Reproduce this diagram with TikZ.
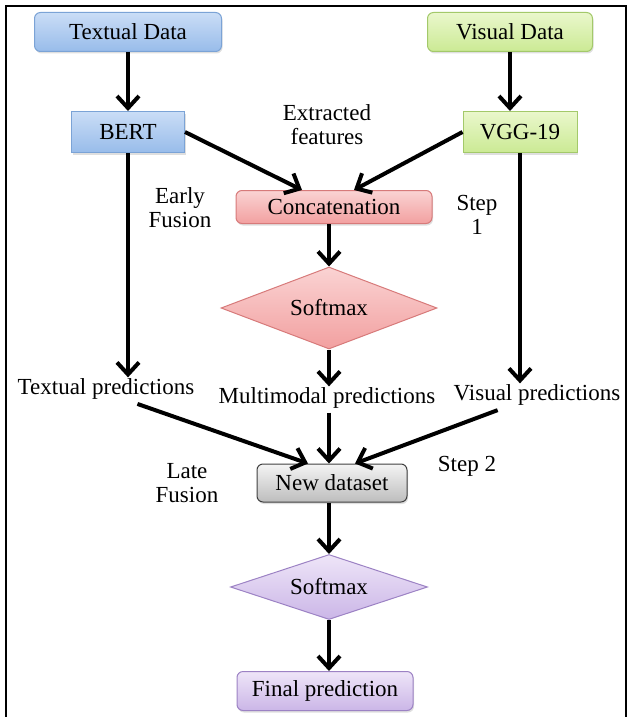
\documentclass[tikz,border=0pt]{standalone}
\usepackage{fontspec}
\setmainfont{Liberation Serif}
\usetikzlibrary{arrows.meta,shapes.geometric,shadows}
\definecolor{bluetop}{HTML}{CADDF6}
\definecolor{bluebot}{HTML}{98BCEA}
\definecolor{blueline}{HTML}{7BA3D6}
\definecolor{greentop}{HTML}{EAF7CC}
\definecolor{greenbot}{HTML}{CBEA94}
\definecolor{greenline}{HTML}{A3C96A}
\definecolor{redtop}{HTML}{FAD3D3}
\definecolor{redbot}{HTML}{F2A0A0}
\definecolor{redline}{HTML}{D77A7A}
\definecolor{greytop}{HTML}{F4F4F4}
\definecolor{greybot}{HTML}{BDBDBD}
\definecolor{greyline}{HTML}{404040}
\definecolor{purpletop}{HTML}{EEE5F8}
\definecolor{purplebot}{HTML}{CBB6E7}
\definecolor{purpleline}{HTML}{9C82C4}
\begin{document}
\begin{tikzpicture}[x=1pt,y=-1pt,
  every node/.style={font=\fontsize{23}{24}\selectfont},
  box/.style={draw,line width=1pt,inner sep=2pt,minimum height=39pt,
    drop shadow={opacity=0.25,shadow xshift=1pt,shadow yshift=-2pt}},
  bluebox/.style={box,draw=blueline,top color=bluetop,bottom color=bluebot},
  greenbox/.style={box,draw=greenline,top color=greentop,bottom color=greenbot},
  redbox/.style={box,draw=redline,top color=redtop,bottom color=redbot},
  greybox/.style={box,draw=greyline,top color=greytop,bottom color=greybot},
  purplebox/.style={box,draw=purpleline,top color=purpletop,bottom color=purplebot},
  dia/.style={diamond,aspect=2.6,inner sep=0pt,line width=1pt},
  reddia/.style={dia,draw=redline,top color=redtop,bottom color=redbot},
  purpledia/.style={dia,draw=purpleline,top color=purpletop,bottom color=purplebot},
  lbl/.style={align=center,inner sep=1pt},
  arr/.style={line width=4pt,-{Straight Barb[length=12pt,width=22pt]}}]
\useasboundingbox (0,0) rectangle (628,717);
\draw[line width=1.5pt] (6,717) -- (6,6) -- (626,6) -- (626,717);
% boxes
\node[bluebox,rounded corners=6pt,minimum width=187pt] (txt) at (128,32) {Textual Data};
\node[greenbox,rounded corners=6pt,minimum width=165pt] (vis) at (510,32) {Visual Data};
\node[bluebox,minimum width=113pt,minimum height=41pt] (bert) at (128,132) {BERT};
\node[greenbox,minimum width=114pt,minimum height=41pt] (vgg) at (520,132) {VGG-19};
\node[redbox,rounded corners=6pt,minimum width=196pt,minimum height=33pt] (concat) at (334,207) {Concatenation};
\node[reddia,minimum width=216pt,minimum height=82pt] (sm1) at (329,308) {Softmax};
\node[lbl] (tp) at (106,389) {Textual predictions};
\node[lbl] (mm) at (327,398) {Multimodal predictions};
\node[lbl] (vp) at (537,395) {Visual predictions};
\node[greybox,rounded corners=6pt,minimum width=150pt,minimum height=38pt] (newds) at (332,483) {New dataset};
\node[purpledia,minimum width=197pt,minimum height=65pt] (sm2) at (329,587) {Softmax};
\node[purplebox,rounded corners=6pt,minimum width=176pt,minimum height=39pt] (fin) at (325,691) {Final prediction};
% labels
\node[lbl] (extr) at (327,125) {Extracted\\features};
\node[lbl] (early) at (180,208) {Early\\Fusion};
\node[lbl] (step1) at (477,215) {Step\\1};
\node[lbl] (late) at (187,483) {Late\\Fusion};
\node[lbl] (step2) at (467,466) {Step 2};
% arrows
\draw[arr] (txt.south) -- (txt.south |- bert.north);
\draw[arr] (vis.south) -- (vis.south |- vgg.north);
\draw[arr] (bert.east) -- ([xshift=-32pt]concat.north);
\draw[arr] (vgg.west) -- ([xshift=20pt]concat.north);
\draw[arr] (concat.south -| sm1.north) -- (sm1.north);
\draw[arr] (bert.south) -- (bert.south |- tp.north);
\draw[arr] (vgg.south) -- (vgg.south |- vp.north);
\draw[arr] (sm1.south) -- (sm1.south |- mm.north);
\draw[arr,shorten <=10pt] ([xshift=22pt]tp.south) -- ([xshift=-24pt]newds.north);
\draw[arr,shorten <=3pt] (sm1.south |- mm.south) -- (sm1.south |- newds.north);
\draw[arr,shorten <=10pt] ([xshift=-30pt]vp.south) -- ([xshift=23pt]newds.north);
\draw[arr] (newds.south -| sm2.north) -- (sm2.north);
\draw[arr] (sm2.south) -- (sm2.south |- fin.north);
\end{tikzpicture}
\end{document}
